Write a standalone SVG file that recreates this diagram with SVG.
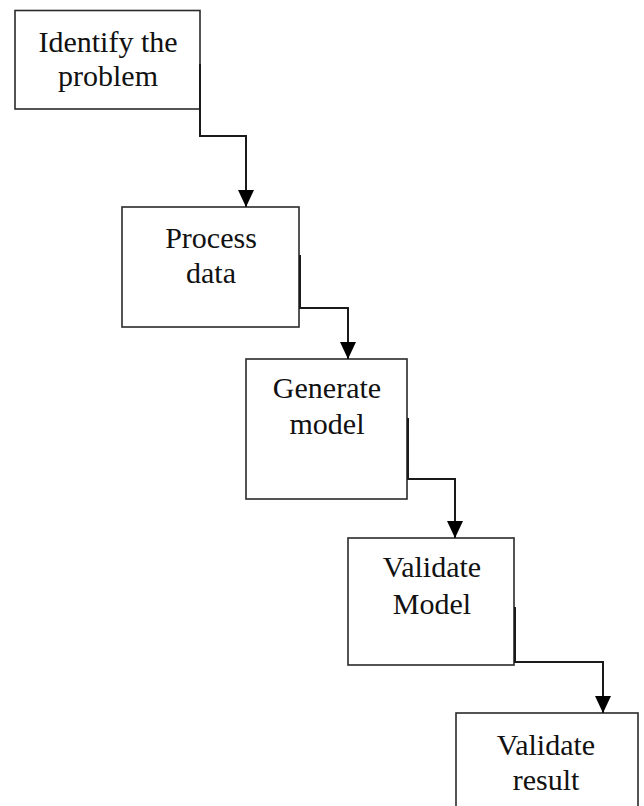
<svg xmlns="http://www.w3.org/2000/svg" width="644" height="806" viewBox="0 0 644 806">
<style>
.box{fill:#fff;stroke:#2a2a2a;stroke-width:1.6}
.lbl{font-family:"Liberation Serif","Times New Roman",serif;font-size:30px;fill:#111;text-anchor:middle}
.con{fill:none;stroke:#1a1a1a;stroke-width:2}
</style>
<defs>
<marker id="arr" markerUnits="userSpaceOnUse" viewBox="0 0 17 16" markerWidth="17" markerHeight="16" refX="17" refY="8" orient="auto">
<path d="M0,0 L17,8 L0,16 z" fill="#000"/>
</marker>
</defs>
<rect width="644" height="806" fill="#fff"/>
<g id="n1"><rect class="box" x="15" y="10.5" width="185" height="98.5"/>
<text class="lbl" x="108" y="52">Identify the</text><text class="lbl" x="108" y="86">problem</text></g>
<g id="n2"><rect class="box" x="122" y="207" width="177" height="120"/>
<text class="lbl" x="211" y="248">Process</text><text class="lbl" x="211" y="283">data</text></g>
<g id="n3"><rect class="box" x="246" y="359" width="161" height="140"/>
<text class="lbl" x="327" y="398">Generate</text><text class="lbl" x="327" y="434">model</text></g>
<g id="n4"><rect class="box" x="348" y="538" width="166" height="127"/>
<text class="lbl" x="432" y="577">Validate</text><text class="lbl" x="432" y="614">Model</text></g>
<g id="n5"><rect class="box" x="456" y="713" width="182" height="110"/>
<text class="lbl" x="546" y="755">Validate</text><text class="lbl" x="546" y="790">result</text></g>
<g id="connectors">
<path class="con" d="M200,64 V136 H246 V207" marker-end="url(#arr)"/>
<path class="con" d="M300,255 V308 H348 V359" marker-end="url(#arr)"/>
<path class="con" d="M408,418 V479 H455 V538" marker-end="url(#arr)"/>
<path class="con" d="M515,607 V662 H603 V713" marker-end="url(#arr)"/>
</g>
</svg>
